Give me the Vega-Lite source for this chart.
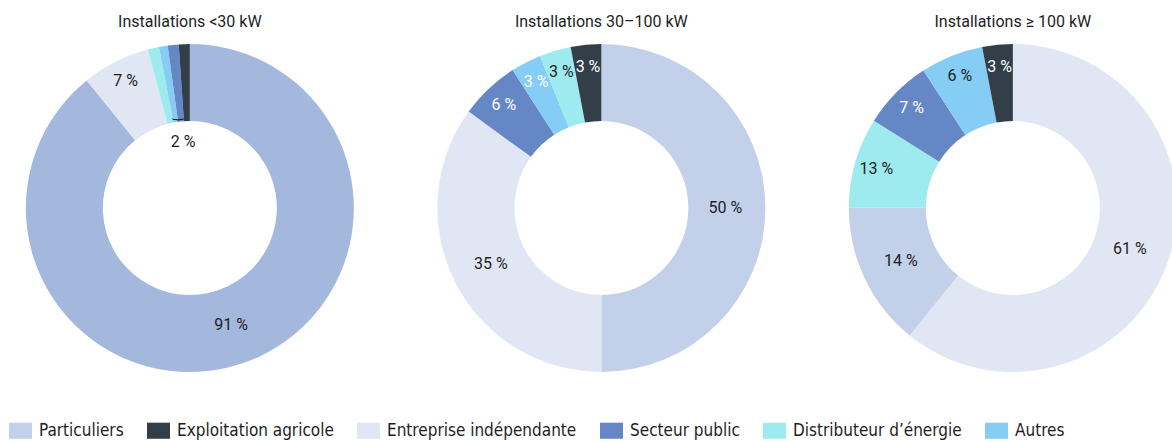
{
  "$schema": "https://vega.github.io/schema/vega-lite/v6.json",
  "width": 1172,
  "height": 416,
  "autosize": {"type": "none"},
  "padding": {"left": 0, "top": 0, "right": 0, "bottom": 26},
  "background": "white",
  "config": {"view": {"stroke": null}, "font": "Roboto"},
  "datasets": {
    "slices": [
      {"group": "Installations <30 kW", "category": "Particuliers", "share": 89.2, "rank": 1, "label": "91 %", "note": ""},
      {"group": "Installations <30 kW", "category": "Entreprise indépendante", "share": 6.7, "rank": 2, "label": "7 %", "note": ""},
      {"group": "Installations <30 kW", "category": "Distributeur d’énergie", "share": 1.1, "rank": 3, "label": "", "note": ""},
      {"group": "Installations <30 kW", "category": "Autres", "share": 0.86, "rank": 4, "label": "", "note": ""},
      {"group": "Installations <30 kW", "category": "Secteur public", "share": 1.08, "rank": 5, "label": "", "note": "2 %"},
      {"group": "Installations <30 kW", "category": "Exploitation agricole", "share": 1.08, "rank": 6, "label": "", "note": ""},
      {"group": "Installations 30–100 kW", "category": "Particuliers", "share": 50, "rank": 1, "label": "50 %", "note": ""},
      {"group": "Installations 30–100 kW", "category": "Entreprise indépendante", "share": 35, "rank": 2, "label": "35 %", "note": ""},
      {"group": "Installations 30–100 kW", "category": "Secteur public", "share": 5.9, "rank": 3, "label": "6 %", "note": ""},
      {"group": "Installations 30–100 kW", "category": "Autres", "share": 3.0, "rank": 4, "label": "3 %", "note": ""},
      {"group": "Installations 30–100 kW", "category": "Distributeur d’énergie", "share": 3.1, "rank": 5, "label": "3 %", "note": ""},
      {"group": "Installations 30–100 kW", "category": "Exploitation agricole", "share": 3.0, "rank": 6, "label": "3 %", "note": ""},
      {"group": "Installations ≥ 100 kW", "category": "Entreprise indépendante", "share": 60.9, "rank": 1, "label": "61 %", "note": ""},
      {"group": "Installations ≥ 100 kW", "category": "Particuliers", "share": 14.2, "rank": 2, "label": "14 %", "note": ""},
      {"group": "Installations ≥ 100 kW", "category": "Distributeur d’énergie", "share": 8.9, "rank": 3, "label": "13 %", "note": ""},
      {"group": "Installations ≥ 100 kW", "category": "Secteur public", "share": 6.9, "rank": 4, "label": "7 %", "note": ""},
      {"group": "Installations ≥ 100 kW", "category": "Autres", "share": 6.2, "rank": 5, "label": "6 %", "note": ""},
      {"group": "Installations ≥ 100 kW", "category": "Exploitation agricole", "share": 3.0, "rank": 6, "label": "3 %", "note": ""}
    ],
    "titles": [
      {"group": "Installations <30 kW"},
      {"group": "Installations 30–100 kW"},
      {"group": "Installations ≥ 100 kW"}
    ]
  },
  "encoding": {
    "x": {
      "field": "group",
      "type": "nominal",
      "sort": ["Installations <30 kW", "Installations 30–100 kW", "Installations ≥ 100 kW"],
      "scale": {"type": "point", "padding": 0.424, "align": 0.544},
      "axis": null
    }
  },
  "resolve": {"scale": {"radius": "independent"}},
  "layer": [
    {
      "data": {"name": "slices"},
      "mark": {"type": "arc"},
      "encoding": {
        "theta": {"field": "share", "type": "quantitative", "stack": "normalize"},
        "radius": {"field": "group", "type": "nominal", "scale": {"type": "point", "range": [164, 164]}},
        "radius2": {"value": 87},
        "order": {"field": "rank", "type": "quantitative"},
        "color": {
          "condition": {"test": "indexof(datum.group, '<') >= 0 && datum.category === 'Particuliers'", "value": "#a4b8dd"},
          "field": "category",
          "type": "nominal",
          "scale": {
            "domain": ["Particuliers", "Exploitation agricole", "Entreprise indépendante", "Secteur public", "Distributeur d’énergie", "Autres"],
            "range": ["#c2d0ea", "#323e48", "#e0e6f3", "#6687c6", "#9debee", "#86cdf5"]
          },
          "legend": {
            "title": null,
            "orient": "none",
            "legendX": 9,
            "legendY": 419,
            "direction": "horizontal",
            "symbolType": "M-1,-0.7H1V0.7H-1Z",
            "symbolSize": 529,
            "symbolStrokeWidth": 0,
            "labelFont": "'Liberation Sans Narrow', 'DejaVu Sans Condensed', Roboto",
            "labelFontSize": 17,
            "labelColor": "#1e1e1e",
            "labelOffset": 7,
            "columnPadding": 23,
            "labelLimit": 300
          }
        }
      }
    },
    {
      "data": {"name": "slices"},
      "mark": {"type": "text", "fontSize": 16},
      "encoding": {
        "theta": {"field": "share", "type": "quantitative", "stack": "normalize"},
        "radius": {"field": "group", "type": "nominal", "scale": {"type": "point", "range": [124, 124]}},
        "order": {"field": "rank", "type": "quantitative"},
        "detail": {"field": "category", "type": "nominal"},
        "text": {"condition": {"test": "datum.share < 10", "value": ""}, "field": "label", "type": "nominal"},
        "color": {"value": "#1e1e1e"}
      }
    },
    {
      "data": {"name": "slices"},
      "mark": {"type": "text", "fontSize": 16},
      "encoding": {
        "theta": {"field": "share", "type": "quantitative", "stack": "normalize"},
        "radius": {"field": "group", "type": "nominal", "scale": {"type": "point", "range": [142, 142]}},
        "order": {"field": "rank", "type": "quantitative"},
        "detail": {"field": "category", "type": "nominal"},
        "text": {"condition": {"test": "datum.share >= 10", "value": ""}, "field": "label", "type": "nominal"},
        "color": {
          "condition": {"test": "datum.category === 'Secteur public' || datum.category === 'Exploitation agricole' || (indexof(datum.group, '30–100') >= 0 && datum.category === 'Autres')", "value": "#ffffff"},
          "value": "#1e1e1e"
        }
      }
    },
    {
      "data": {"name": "slices"},
      "mark": {"type": "text", "fontSize": 16, "color": "#1e1e1e"},
      "encoding": {
        "theta": {"field": "share", "type": "quantitative", "stack": "normalize"},
        "radius": {"field": "group", "type": "nominal", "scale": {"type": "point", "range": [66, 66]}},
        "order": {"field": "rank", "type": "quantitative"},
        "detail": {"field": "category", "type": "nominal"},
        "text": {"field": "note", "type": "nominal"}
      }
    },
    {
      "data": {"name": "slices"},
      "mark": {"type": "text", "thetaOffset": -0.04, "fontSize": 12, "font": "Noto Sans CJK SC", "color": "#1e1e1e"},
      "encoding": {
        "theta": {"field": "share", "type": "quantitative", "stack": "normalize"},
        "radius": {"field": "group", "type": "nominal", "scale": {"type": "point", "range": [84, 84]}},
        "order": {"field": "rank", "type": "quantitative"},
        "detail": {"field": "category", "type": "nominal"},
        "text": {"condition": {"test": "datum.note !== ''", "value": "︸"}, "value": ""}
      }
    },
    {
      "data": {"name": "titles"},
      "mark": {"type": "text", "theta": 0, "radius": 186, "fontSize": 16, "color": "#1e1e1e"},
      "encoding": {
        "text": {"field": "group", "type": "nominal"}
      }
    }
  ]
}
